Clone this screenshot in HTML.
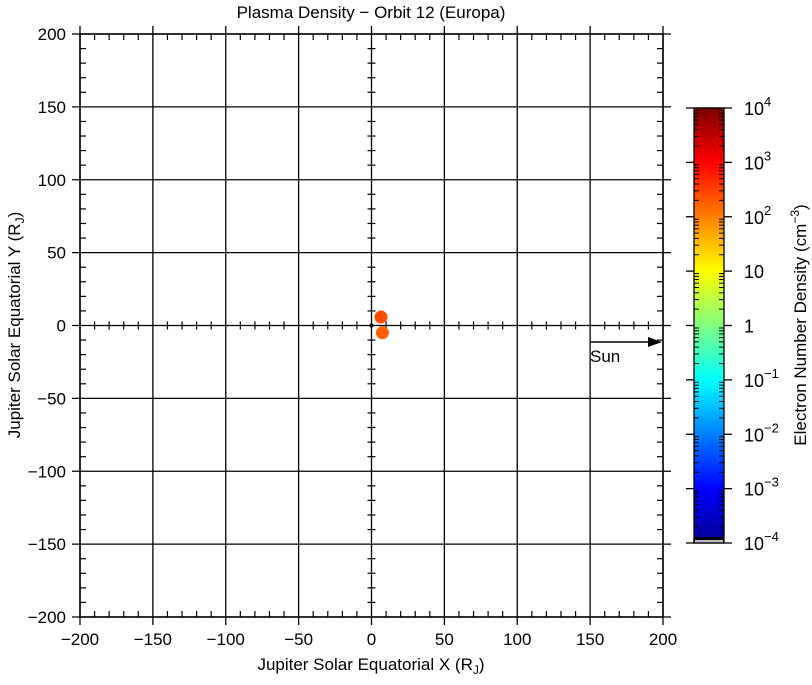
<!DOCTYPE html>
<html><head><meta charset="utf-8"><style>
body{margin:0;background:#fff;}
svg text{font-family:"Liberation Sans","DejaVu Sans",sans-serif;fill:#000;}
</style></head><body>
<svg id="chart" width="812" height="680" xmlns="http://www.w3.org/2000/svg">
<defs>
<linearGradient id="jet" x1="0" y1="1" x2="0" y2="0">
<stop offset="0" stop-color="#00008f"/>
<stop offset="0.125" stop-color="#0000ff"/>
<stop offset="0.375" stop-color="#00ffff"/>
<stop offset="0.5" stop-color="#80ff80"/>
<stop offset="0.625" stop-color="#ffff00"/>
<stop offset="0.875" stop-color="#ff0000"/>
<stop offset="1" stop-color="#800000"/>
</linearGradient>
</defs>
<g id="plot"></g>
<g id="cbar"></g>
</svg>
<script>
const xTicks=[-200,-150,-100,-50,0,50,100,150,200];
const yTicks=[-200,-150,-100,-50,0,50,100,150,200];
const ptX=[6.5,7.5];
const ptY=[5.8,-5.0];
const ptDensity=[250,180];
const cbExp=[-4,-3,-2,-1,0,1,2,3,4];

const L=80,R=663,T=34,B=617;
const sx=v=>L+(v+200)/400*(R-L);
const sy=v=>B-(v+200)/400*(B-T);
const NS="http://www.w3.org/2000/svg";
const g=document.getElementById('plot');
const cb=document.getElementById('cbar');
function mk(tag,attrs,parent){const e=document.createElementNS(NS,tag);for(const k in attrs)e.setAttribute(k,attrs[k]);(parent||g).appendChild(e);return e;}

let fr=mk('rect',{x:L,y:T,width:R-L,height:B-T,fill:'none',stroke:'#000','stroke-width':1.5});


xTicks.forEach(v=>{
 let ln=mk('line',{x1:sx(v),x2:sx(v),y1:T-8,y2:B+8,stroke:'#000','stroke-width':1.3});
 
 
 let t=mk('text',{x:sx(v),y:B+28,'font-size':17,'text-anchor':'middle'});
 t.textContent=v<0?'\u2212'+(-v):v;
 
 
});
yTicks.forEach(v=>{
 let ln=mk('line',{x1:L-8,x2:R+8,y1:sy(v),y2:sy(v),stroke:'#000','stroke-width':1.3});
 
 
 let t=mk('text',{x:L-14,y:sy(v)+6,'font-size':17,'text-anchor':'end'});
 t.textContent=v<0?'\u2212'+(-v):v;
 
 
});
for(let v=-200;v<=200;v+=10){
 if(v%50===0)continue;
 [[sx(v),T,sx(v),T+6],[sx(v),B,sx(v),B-6],[sx(v),sy(0)-4,sx(v),sy(0)+4],
  [L,sy(v),L+6,sy(v)],[R,sy(v),R-6,sy(v)],[sx(0)-4,sy(v),sx(0)+4,sy(v)]].forEach(c=>{
  let m=mk('line',{x1:c[0],y1:c[1],x2:c[2],y2:c[3],stroke:'#000','stroke-width':1.2});
  
  
 });
}
let jd=mk('circle',{cx:sx(0),cy:sy(0),r:2,fill:'#000'});


function jet(t){
 const stops=[[0,[0,0,143]],[0.125,[0,0,255]],[0.375,[0,255,255]],[0.5,[128,255,128]],[0.625,[255,255,0]],[0.875,[255,0,0]],[1,[128,0,0]]];
 for(let i=1;i<stops.length;i++){if(t<=stops[i][0]){const a=stops[i-1],b=stops[i];const f=(t-a[0])/(b[0]-a[0]);return 'rgb('+a[1].map((c,j)=>Math.round(c+(b[1][j]-c)*f)).join(',')+')';}}
 return 'rgb(128,0,0)';
}
ptX.forEach((x,i)=>{
 const t=(Math.log10(ptDensity[i])+4)/8;
 let c=mk('circle',{cx:sx(x),cy:sy(ptY[i]),r:6.5,fill:jet(t)});
 
 
});
let sa=mk('line',{x1:590,y1:342,x2:655,y2:342,stroke:'#000','stroke-width':1.5});


let sh=mk('polygon',{points:'662,342 648,337 648,347',fill:'#000'});


let st=mk('text',{x:590,y:362,'font-size':17});st.textContent='Sun';


let ti=mk('text',{x:371,y:18,'font-size':17,'text-anchor':'middle'});ti.textContent='Plasma Density \u2212 Orbit 12 (Europa)';


let xt=mk('text',{x:371,y:670,'font-size':17,'text-anchor':'middle'});
xt.innerHTML='Jupiter Solar Equatorial X (R<tspan font-size="12" dy="4">J</tspan><tspan dy="-4">)</tspan>';


let yt=mk('text',{x:0,y:0,'font-size':17,'text-anchor':'middle',transform:'translate(20,325) rotate(-90)'});
yt.innerHTML='Jupiter Solar Equatorial Y (R<tspan font-size="12" dy="4">J</tspan><tspan dy="-4">)</tspan>';


const CL=694,CR=724,CT=108,CB=543;
const cy=e=>CB-(e+4)/8*(CB-CT);
let cr=mk('rect',{x:CL,y:CT,width:CR-CL,height:CB-CT,fill:'url(#jet)',stroke:'#000','stroke-width':1.3},cb);


let cs=mk('rect',{x:CL,y:CB-6,width:CR-CL,height:3,fill:'#000'},cb);


let cg=mk('rect',{x:CL+1,y:CB-3,width:CR-CL-2,height:3,fill:'#bbb'},cb);


cbExp.forEach(e=>{
 const y=cy(e);
 [[CL-8,CL],[CR,CR+8]].forEach(p=>{
  let ln=mk('line',{x1:p[0],x2:p[1],y1:y,y2:y,stroke:'#000','stroke-width':1.3},cb);
  
  
 });
 if(e===-4||e===4){let ln=mk('line',{x1:CL,x2:CR,y1:y,y2:y,stroke:'#000','stroke-width':1.3},cb);
  
  }
 let t=mk('text',{x:744,y:y+7,'font-size':18},cb);
 if(e===0)t.textContent='1';
 else if(e===1)t.textContent='10';
 else t.innerHTML='10<tspan font-size="13" dy="-9">'+(e<0?'\u2212'+(-e):e)+'</tspan>';
 
 
 if(e<4){for(let k=2;k<10;k++){const yy=y-Math.log10(k)*(CB-CT)/8;
  [[CL,CL+5],[CR-5,CR]].forEach(p=>{let m=mk('line',{x1:p[0],x2:p[1],y1:yy,y2:yy,stroke:'#000','stroke-width':1},cb);
  
  });}}
});
let ct=mk('text',{x:0,y:0,'font-size':17,'text-anchor':'middle',transform:'translate(806,325) rotate(-90)'},cb);
ct.innerHTML='Electron Number Density (cm<tspan font-size="12" dy="-7">\u22123</tspan><tspan dy="7">)</tspan>';


</script>
</body></html>
